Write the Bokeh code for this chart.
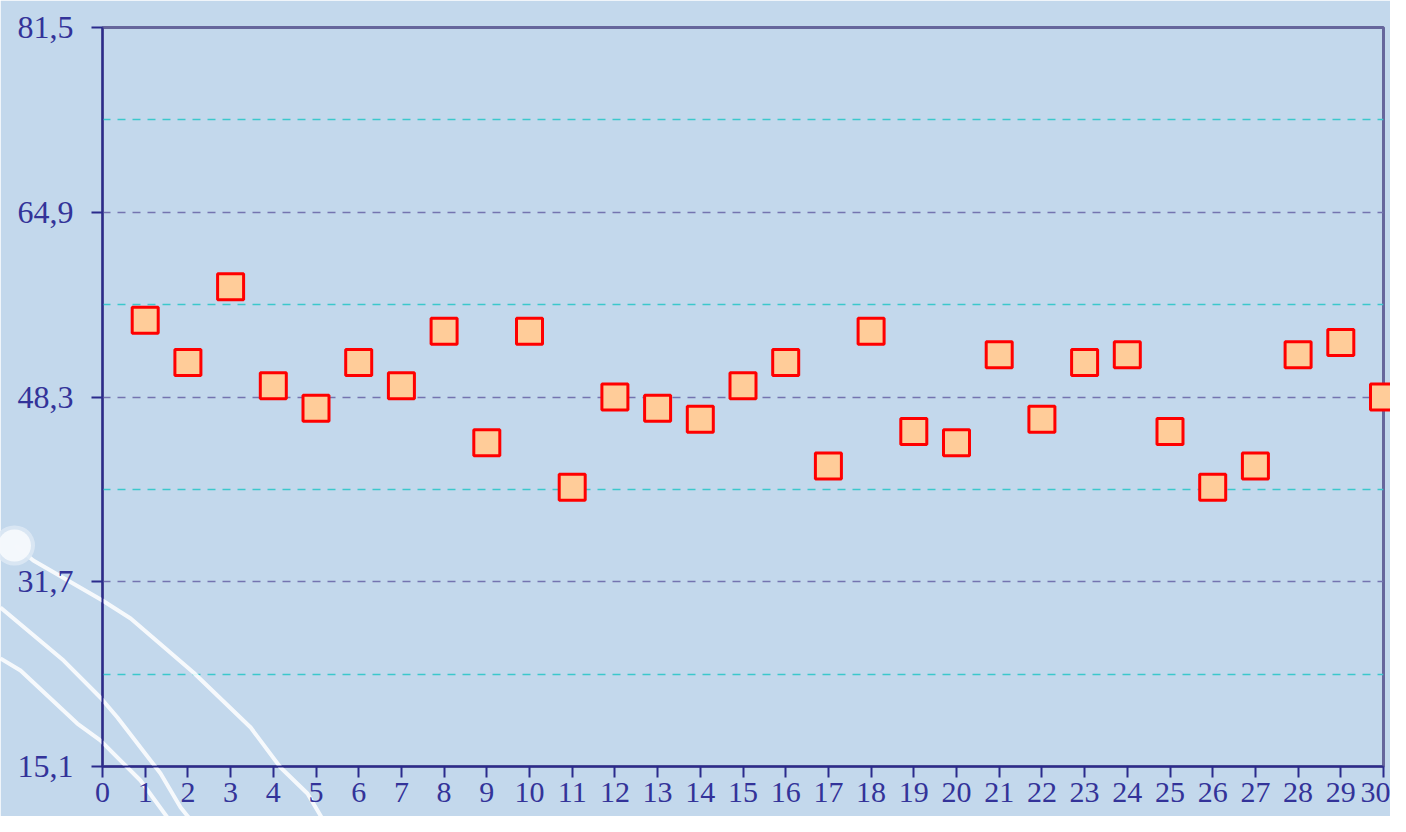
from bokeh.plotting import figure
from bokeh.models import FixedTicker, Range1d, ColumnDataSource
from bokeh.embed import file_html
from bokeh.resources import INLINE

# ---- data ----
days = list(range(1, 31))
values = [55.2, 51.4, 58.2, 49.3, 47.3, 51.4, 49.3, 54.2, 44.2, 54.2,
          40.2, 48.3, 47.3, 46.3, 49.3, 51.4, 42.1, 54.2, 45.2, 44.2,
          52.1, 46.3, 51.4, 52.1, 45.2, 40.2, 42.1, 52.1, 53.2, 48.3]
y_ticks = [15.1, 31.7, 48.3, 64.9, 81.5]
y_tick_labels = ["15,1", "31,7", "48,3", "64,9", "81,5"]
y_minor = [23.4, 40.0, 56.6, 73.2]
x_ticks = list(range(0, 31))

# decorative background swooshes (bottom-left corner art)
deco_a_x = [-2.04, -1.62, 0.0, 0.66, 2.13, 3.47, 4.17, 4.80, 5.34]
deco_a_y = [34.96, 33.61, 30.01, 28.40, 23.55, 18.60, 15.01, 12.67, 9.17]
deco_b_x = [-2.39, -0.91, -0.05, 0.35, 1.36, 1.83, 2.30]
deco_b_y = [29.39, 24.62, 21.30, 19.50, 14.47, 11.42, 9.17]
deco_c_x = [-2.39, -1.92, -0.59, -0.05, 0.89, 1.52, 1.83]
deco_c_y = [24.80, 23.73, 18.96, 17.44, 13.84, 10.52, 9.17]
deco_ball_x = [-2.07, -2.05]
deco_ball_y = [34.96, 34.96]

BG = "#C3D8EC"
NAVY = "#2B2B8C"
TXT = "#333399"

p = figure(width=1390, height=816, output_backend="svg", toolbar_location=None,
           x_range=Range1d(0, 30), y_range=Range1d(15.1, 81.5),
           min_border_left=102, min_border_right=7, min_border_top=27, min_border_bottom=50)
p.background_fill_color = BG
p.border_fill_color = BG
p.outline_line_color = "#66669C"
p.outline_line_width = 3

# decoration (drawn outside the frame too)
for xs, ys in ((deco_a_x, deco_a_y), (deco_b_x, deco_b_y), (deco_c_x, deco_c_y)):
    dl = p.line(xs, ys, line_color="white", line_width=4, line_alpha=0.85)
    dl.level = "guide"
glow = p.line(deco_ball_x, deco_ball_y, line_color="#DCE8F4", line_width=40,
              line_cap="round", line_alpha=0.9)
glow.level = "guide"
ball = p.line(deco_ball_x, deco_ball_y, line_color="#F6F9FC", line_width=32,
              line_cap="round", line_alpha=0.95)
ball.level = "guide"

# axes
for ax in (p.xaxis[0], p.yaxis[0]):
    ax.axis_line_color = NAVY
    ax.axis_line_width = 2
    ax.major_tick_line_color = NAVY
    ax.major_tick_line_width = 2
    ax.major_tick_out = 11
    ax.major_tick_in = 0
    ax.minor_tick_out = 0
    ax.minor_tick_in = 0
    ax.major_label_text_font = "Liberation Serif"
    ax.major_label_text_color = TXT

p.xaxis.ticker = FixedTicker(ticks=x_ticks)
p.xaxis.major_label_text_font_size = "30px"
p.xaxis.major_label_standoff = 5
p.yaxis.ticker = FixedTicker(ticks=y_ticks, minor_ticks=y_minor)
p.yaxis.major_label_overrides = {t: l for t, l in zip(y_ticks, y_tick_labels)}
p.yaxis.major_label_text_font_size = "32px"
p.yaxis.major_label_standoff = 18

# grids
p.xgrid.grid_line_color = None
p.ygrid.ticker = FixedTicker(ticks=y_ticks[1:-1], minor_ticks=y_minor)
p.ygrid.grid_line_color = "#7474B0"
p.ygrid.grid_line_width = 1.3
p.ygrid.grid_line_dash = "8 7"
p.ygrid.minor_grid_line_color = "#3CC8CC"
p.ygrid.minor_grid_line_width = 1.3
p.ygrid.minor_grid_line_dash = "8 7"

src = ColumnDataSource(dict(x=days, y=values))
r = p.scatter("x", "y", source=src, marker="square", size=26,
              fill_color="#FFCC99", line_color="#FF0000", line_width=3)
r.level = "overlay"

open("out.html", "w").write(file_html(p, INLINE))
